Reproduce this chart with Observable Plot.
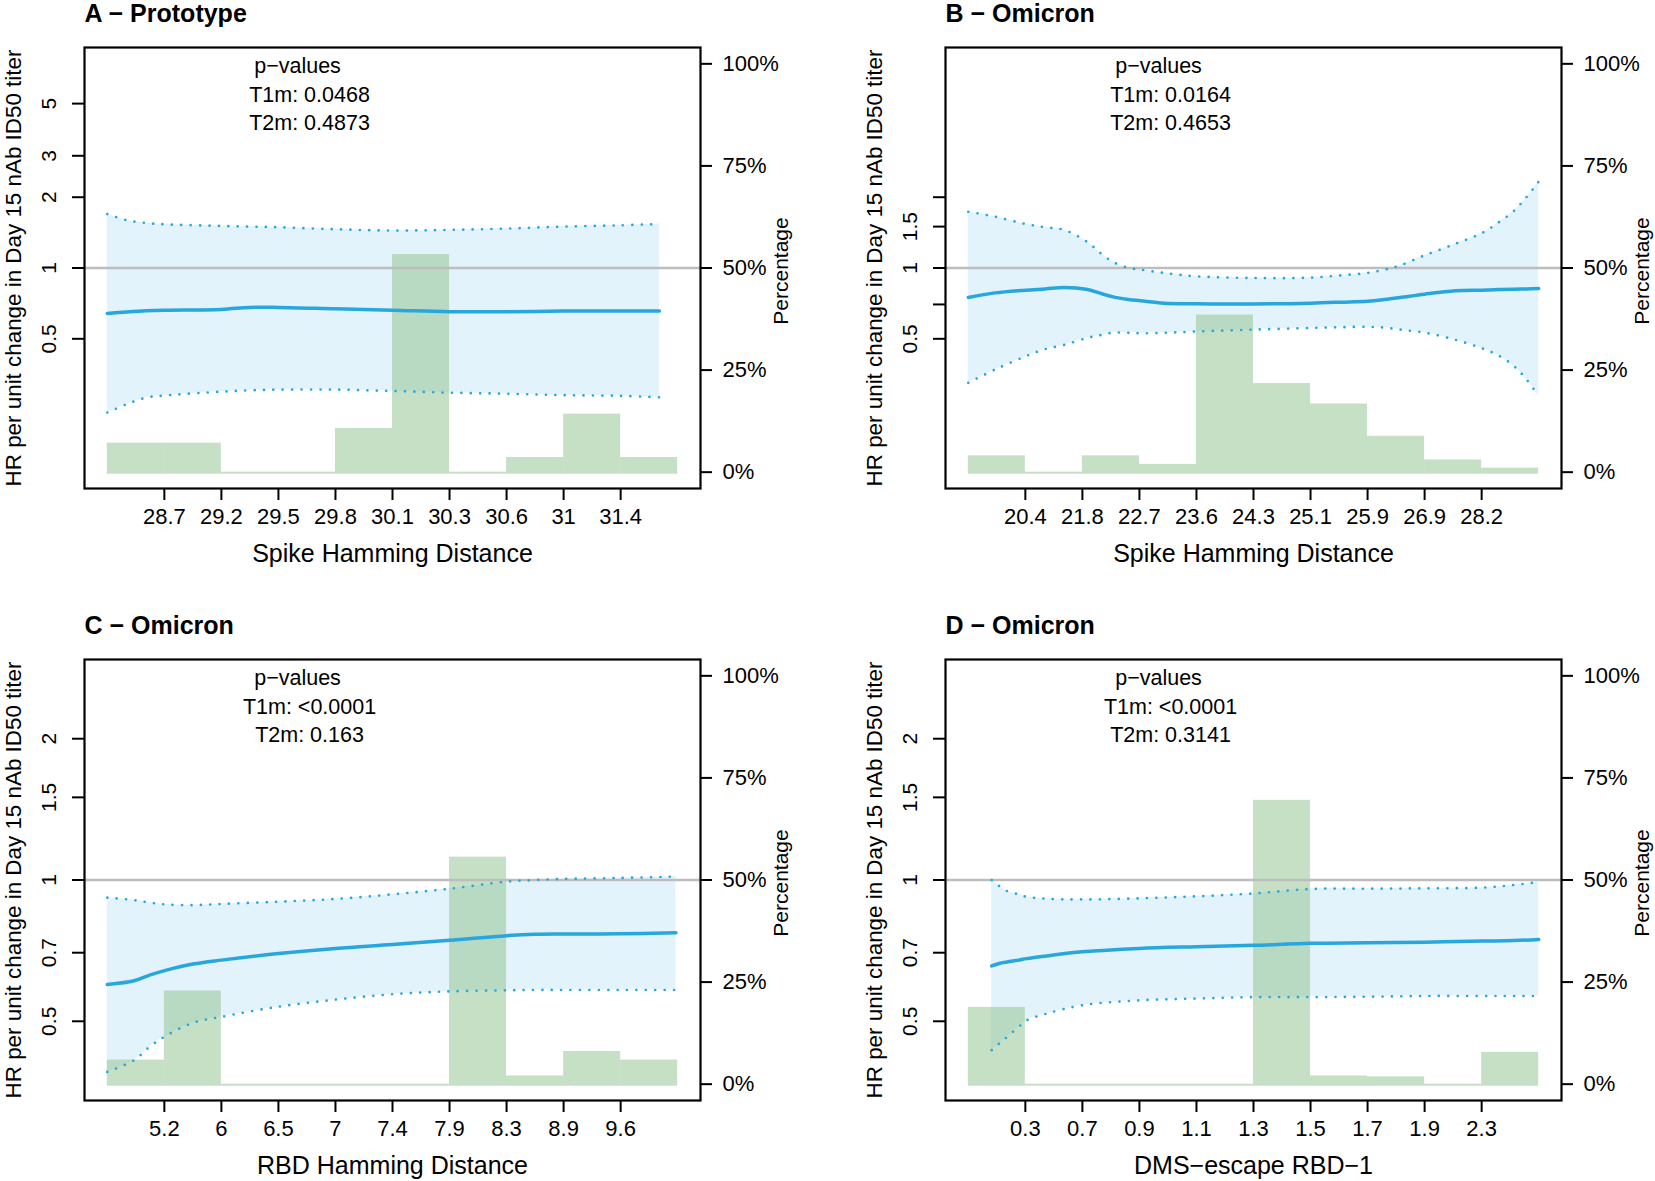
<!DOCTYPE html>
<html>
<head>
<meta charset="utf-8">
<script src="https://cdn.jsdelivr.net/npm/d3@7"></script>
<script src="https://cdn.jsdelivr.net/npm/@observablehq/plot@0.6"></script>
<style>
  html, body { margin: 0; padding: 0; background: #fff; overflow: hidden; }
  #page { position: relative; width: 1655px; height: 1181px; overflow: hidden; background: #fff; }
  .panel { position: absolute; width: 794px; height: 590px; }
  .panel svg { position: absolute; left: 0; top: 0; }
</style>
</head>
<body>
<div id="page"></div>
<script>
// ---- data -----------------------------------------------------------------
// Each x-axis is split into 10 bins; ticks sit on the 9 inner bin boundaries.
const binIndex = [0, 1, 2, 3, 4, 5, 6, 7, 8, 9];
const boundaryPos = [1, 2, 3, 4, 5, 6, 7, 8, 9];

const panelTitles = ["A \u2212 Prototype", "B \u2212 Omicron", "C \u2212 Omicron", "D \u2212 Omicron"];
const xTitles = ["Spike Hamming Distance", "Spike Hamming Distance", "RBD Hamming Distance", "DMS\u2212escape RBD\u22121"];
const yTitle = "HR per unit change in Day 15 nAb ID50 titer";
const pctTitle = "Percentage";

const xTicksA = ["28.7", "29.2", "29.5", "29.8", "30.1", "30.3", "30.6", "31", "31.4"];
const xTicksB = ["20.4", "21.8", "22.7", "23.6", "24.3", "25.1", "25.9", "26.9", "28.2"];
const xTicksC = ["5.2", "6", "6.5", "7", "7.4", "7.9", "8.3", "8.9", "9.6"];
const xTicksD = ["0.3", "0.7", "0.9", "1.1", "1.3", "1.5", "1.7", "1.9", "2.3"];

const yTicksA = [0.5, 1, 2, 3, 5];
const yLabelsA = ["0.5", "1", "2", "3", "5"];
const yTicksB = [0.5, 0.7, 1, 1.5, 2];
const yLabelsB = ["0.5", "", "1", "1.5", ""];
const yTicksCD = [0.5, 0.7, 1, 1.5, 2];
const yLabelsCD = ["0.5", "0.7", "1", "1.5", "2"];

const pctTicks = [0, 25, 50, 75, 100];
const pctLimits = [-4, 104];
const hrLimitsAB = [0.1155, 8.66];
const hrLimitsCD = [0.339, 2.95];

const pTitle = "p\u2212values";
const pT1m = ["0.0468", "0.0164", "<0.0001", "<0.0001"];
const pT2m = ["0.4873", "0.4653", "0.163", "0.3141"];

// Share of participants in each bin (%)
const pctA = [7.1, 7.1, 0, 0, 10.7, 53.3, 0, 3.6, 14.2, 3.6];
const pctB = [4.0, 0, 4.0, 1.9, 38.5, 21.7, 16.7, 8.8, 3.0, 1.0];
const pctC = [5.9, 22.8, 0, 0, 0, 0, 55.6, 2.0, 8.0, 5.9];
const pctD = [18.8, 0, 0, 0, 0, 69.5, 2.0, 1.8, 0, 7.8];

// Hazard ratio curve with 95% confidence limits, positions in bin units
const posA = [0, 0.33, 0.68, 1, 2, 2.5, 3, 4, 5, 6, 7, 8, 9, 9.68];
const hrA = [0.641, 0.650, 0.658, 0.662, 0.667, 0.680, 0.680, 0.671, 0.662, 0.652, 0.652, 0.656, 0.656, 0.656];
const loA = [0.243, 0.263, 0.281, 0.287, 0.298, 0.302, 0.304, 0.304, 0.300, 0.295, 0.292, 0.288, 0.286, 0.282];
const hiA = [1.696, 1.600, 1.554, 1.534, 1.509, 1.500, 1.490, 1.461, 1.443, 1.452, 1.471, 1.500, 1.519, 1.539];

const posB = [0, 0.47, 1, 1.35, 1.68, 2.09, 2.33, 2.54, 2.81, 3.02, 3.43, 4, 5, 6, 6.54, 7, 7.3, 7.57, 8, 8.54, 9, 9.3, 9.57, 9.78, 10];
const hrB = [0.749, 0.784, 0.805, 0.815, 0.826, 0.810, 0.779, 0.754, 0.735, 0.726, 0.709, 0.705, 0.703, 0.709, 0.716, 0.723, 0.735, 0.749, 0.774, 0.800, 0.805, 0.810, 0.813, 0.815, 0.818];
const loB = [0.325, 0.370, 0.421, 0.452, 0.471, 0.505, 0.519, 0.531, 0.530, 0.528, 0.530, 0.537, 0.547, 0.556, 0.560, 0.562, 0.558, 0.547, 0.531, 0.495, 0.456, 0.424, 0.382, 0.337, 0.285];
const hiB = [1.735, 1.653, 1.539, 1.490, 1.452, 1.288, 1.150, 1.060, 1.000, 0.984, 0.953, 0.922, 0.907, 0.910, 0.931, 0.953, 0.984, 1.026, 1.131, 1.267, 1.405, 1.564, 1.752, 1.995, 2.330];

const posC = [0, 0.47, 0.74, 1.02, 1.5, 2, 3, 4, 5, 6, 7, 7.5, 8, 9, 9.97];
const hrC = [0.599, 0.610, 0.627, 0.642, 0.662, 0.675, 0.697, 0.715, 0.729, 0.744, 0.761, 0.766, 0.767, 0.768, 0.772];
const loC = [0.390, 0.413, 0.441, 0.465, 0.496, 0.511, 0.537, 0.556, 0.571, 0.579, 0.582, 0.583, 0.583, 0.583, 0.583];
const hiC = [0.917, 0.906, 0.895, 0.887, 0.884, 0.889, 0.899, 0.911, 0.932, 0.958, 0.992, 1.000, 1.005, 1.010, 1.017];

const posD = [0.41, 0.54, 0.68, 0.88, 1.02, 1.37, 2, 3, 4, 5, 6, 7, 8, 9, 9.57, 10];
const hrD = [0.656, 0.664, 0.669, 0.675, 0.680, 0.689, 0.703, 0.715, 0.721, 0.726, 0.733, 0.735, 0.737, 0.741, 0.743, 0.747];
const loD = [0.434, 0.448, 0.463, 0.486, 0.502, 0.519, 0.541, 0.554, 0.559, 0.563, 0.563, 0.564, 0.566, 0.566, 0.566, 0.566];
const hiD = [1.000, 0.971, 0.947, 0.932, 0.921, 0.912, 0.909, 0.914, 0.923, 0.936, 0.957, 0.958, 0.960, 0.963, 0.976, 0.990];

// ---- styling ----------------------------------------------------------------
const FONT = '"Liberation Sans", Arial, Helvetica, sans-serif';
const BLUE = "#27a7dd";
const BAND = "#e3f3fb";
const GREEN = "#8fc48f";
const W = 794, H = 590;
const M = {top: 47, right: 94, bottom: 102, left: 84};
const xLimits = [-0.4, 10.4];

const panels = [
  {left: 0, top: 0, title: panelTitles[0], xTitle: xTitles[0], xTicks: xTicksA, yTicks: yTicksA, yLabels: yLabelsA, hrLimits: hrLimitsAB, pct: pctA, pos: posA, hr: hrA, lo: loA, hi: hiA, t1: pT1m[0], t2: pT2m[0]},
  {left: 861, top: 0, title: panelTitles[1], xTitle: xTitles[1], xTicks: xTicksB, yTicks: yTicksB, yLabels: yLabelsB, hrLimits: hrLimitsAB, pct: pctB, pos: posB, hr: hrB, lo: loB, hi: hiB, t1: pT1m[1], t2: pT2m[1]},
  {left: 0, top: 612, title: panelTitles[2], xTitle: xTitles[2], xTicks: xTicksC, yTicks: yTicksCD, yLabels: yLabelsCD, hrLimits: hrLimitsCD, pct: pctC, pos: posC, hr: hrC, lo: loC, hi: hiC, t1: pT1m[2], t2: pT2m[2]},
  {left: 861, top: 612, title: panelTitles[3], xTitle: xTitles[3], xTicks: xTicksD, yTicks: yTicksCD, yLabels: yLabelsCD, hrLimits: hrLimitsCD, pct: pctD, pos: posD, hr: hrD, lo: loD, hi: hiD, t1: pT1m[3], t2: pT2m[3]}
];

function drawPanel(p) {
  const holder = document.createElement("div");
  holder.className = "panel";
  holder.style.left = p.left + "px";
  holder.style.top = p.top + "px";

  const base = {
    width: W, height: H,
    marginTop: M.top, marginRight: M.right, marginBottom: M.bottom, marginLeft: M.left,
    x: {domain: xLimits, axis: null},
    style: {background: "transparent", fontFamily: FONT, color: "black"}
  };
  const rows = p.pos.map((x, i) => ({x, est: p.hr[i], lo: p.lo[i], hi: p.hi[i]}));

  // bottom layer: confidence band on the hazard-ratio scale
  const bandLayer = Plot.plot({
    ...base,
    y: {type: "log", domain: p.hrLimits, axis: null},
    marks: [
      Plot.areaY(rows, {x: "x", y1: "lo", y2: "hi", fill: BAND, curve: "catmull-rom"})
    ]
  });

  // middle layer: histogram on the percentage scale with its right axis
  const barLayer = Plot.plot({
    ...base,
    y: {domain: pctLimits, axis: null},
    marks: [
      Plot.rect(binIndex, {x1: (i) => i, x2: (i) => i + 1, y1: () => -0.5, y2: (i) => p.pct[i], fill: GREEN, fillOpacity: 0.52}),
      Plot.axisY({anchor: "right", ticks: pctTicks, tickFormat: (d) => d + "%", tickSize: 11, tickPadding: 11, fontSize: 22, strokeWidth: 2, label: null}),
      Plot.text([pctTitle], {text: (d) => d, frameAnchor: "right", rotate: -90, dx: 87, dy: 3, lineAnchor: "bottom", textAnchor: "middle", fontSize: 21})
    ]
  });

  // top layer: reference line, curves, axes, frame and annotations
  const lineLayer = Plot.plot({
    ...base,
    y: {type: "log", domain: p.hrLimits, axis: null},
    marks: [
      Plot.ruleY([1], {stroke: "#bdbdbd", strokeWidth: 2.6}),
      Plot.line(rows, {x: "x", y: "hi", stroke: BLUE, strokeWidth: 2.7, strokeDasharray: "0 9.4", strokeLinecap: "round", curve: "catmull-rom"}),
      Plot.line(rows, {x: "x", y: "lo", stroke: BLUE, strokeWidth: 2.7, strokeDasharray: "0 9.4", strokeLinecap: "round", curve: "catmull-rom"}),
      Plot.line(rows, {x: "x", y: "est", stroke: BLUE, strokeWidth: 3.5, curve: "catmull-rom"}),
      Plot.axisY({anchor: "left", ticks: p.yTicks, tickFormat: (d) => p.yLabels[p.yTicks.indexOf(d)], tickSize: 12, tickPadding: 17, tickRotate: -90, textAnchor: "middle", lineAnchor: "bottom", fontSize: 21, strokeWidth: 2, label: null}),
      Plot.axisX({ticks: boundaryPos, tickFormat: (d) => p.xTicks[d - 1], tickSize: 12, tickPadding: 8, fontSize: 22, strokeWidth: 2, label: null}),
      Plot.frame({stroke: "black", strokeWidth: 2.2}),
      Plot.text([p.title], {text: (d) => d, frameAnchor: "top-left", dy: -25.3, lineAnchor: "bottom", textAnchor: "start", fontSize: 25, fontWeight: "bold"}),
      Plot.text([pTitle], {text: (d) => d, frameAnchor: "top-left", dx: 213, dy: 25, lineAnchor: "bottom", textAnchor: "middle", fontSize: 21.5}),
      Plot.text(["T1m: " + p.t1], {text: (d) => d, frameAnchor: "top-left", dx: 225, dy: 54.7, lineAnchor: "bottom", textAnchor: "middle", fontSize: 21.5}),
      Plot.text(["T2m: " + p.t2], {text: (d) => d, frameAnchor: "top-left", dx: 225, dy: 82, lineAnchor: "bottom", textAnchor: "middle", fontSize: 21.5}),
      Plot.text([p.xTitle], {text: (d) => d, frameAnchor: "bottom", dy: 73, lineAnchor: "bottom", textAnchor: "middle", fontSize: 25}),
      Plot.text([yTitle], {text: (d) => d, frameAnchor: "left", rotate: -90, dx: -63.3, lineAnchor: "bottom", textAnchor: "middle", fontSize: 22.4})
    ]
  });

  holder.append(bandLayer, barLayer, lineLayer);
  document.getElementById("page").append(holder);
}

panels.forEach(drawPanel);
</script>
</body>
</html>
